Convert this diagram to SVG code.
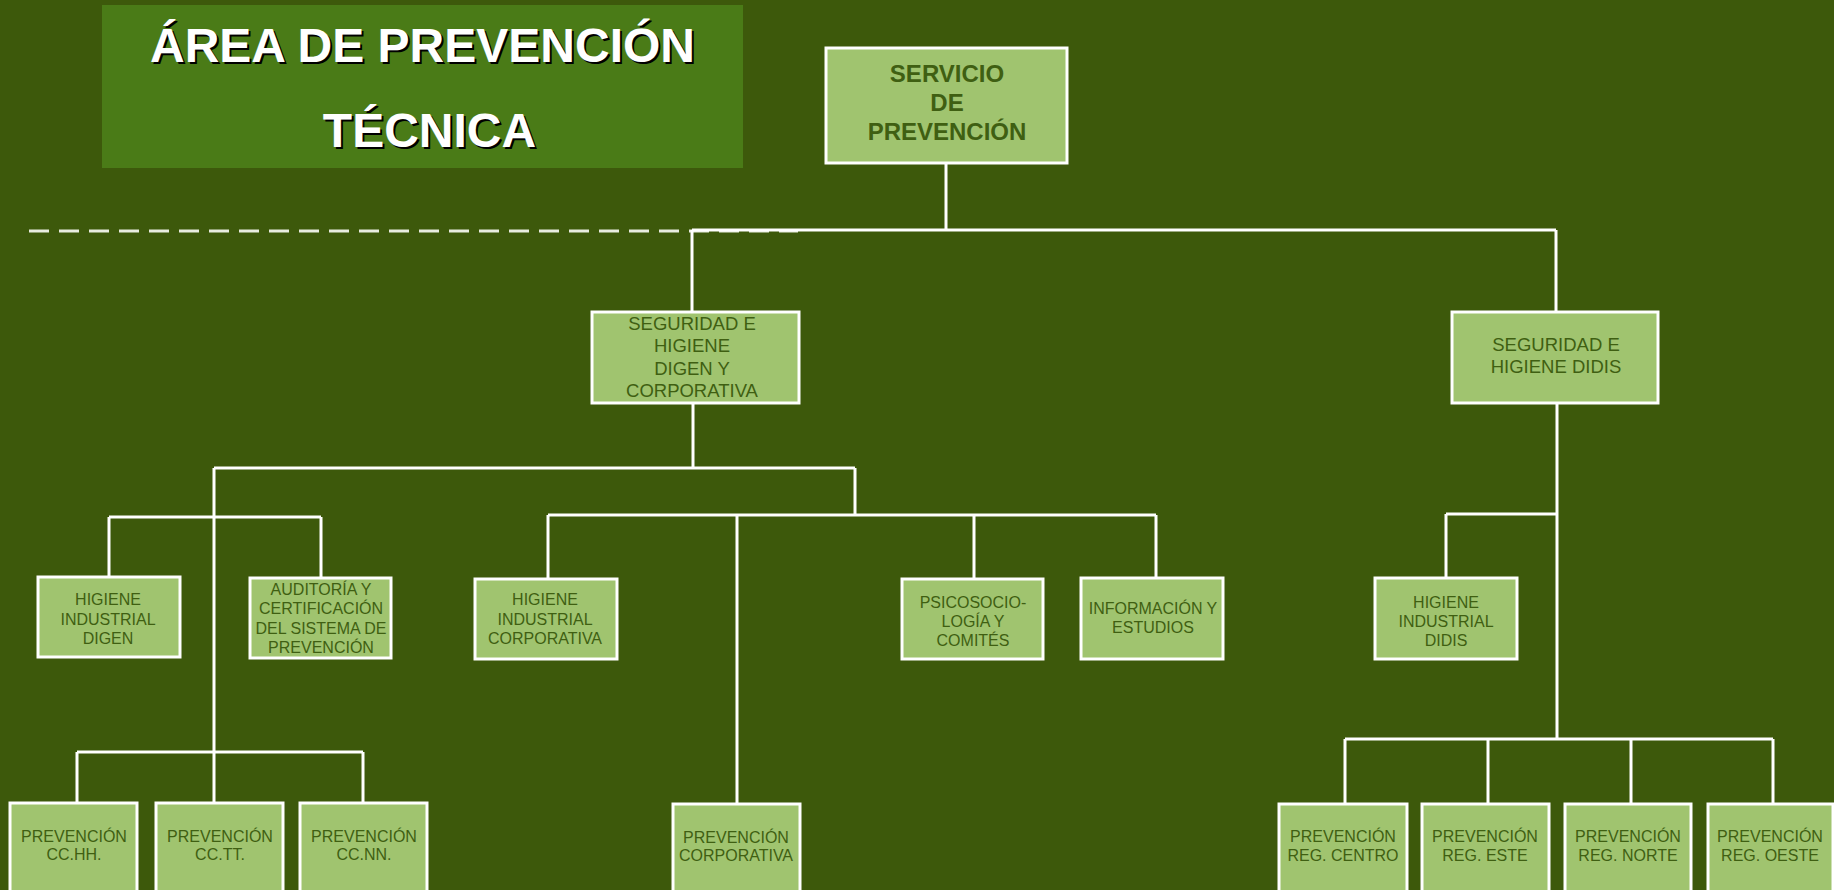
<svg xmlns="http://www.w3.org/2000/svg" width="1834" height="890" viewBox="0 0 1834 890">
<style>
.bg{fill:#3d590b}
.box{fill:#a0c46f;stroke:#ffffff;stroke-width:3}
.ln{stroke:#ffffff;stroke-width:3;fill:none}
.t{font-family:"Liberation Sans",Arial,sans-serif;font-size:16px;fill:#3f5f12;text-anchor:middle}
.tm{font-family:"Liberation Sans",Arial,sans-serif;font-size:18.5px;fill:#3f5f12;text-anchor:middle}
.tb{font-family:"Liberation Sans",Arial,sans-serif;font-size:24px;font-weight:bold;fill:#3f5f12;text-anchor:middle}
.title{font-family:"Liberation Sans",Arial,sans-serif;font-size:48px;font-weight:bold;text-anchor:middle}
</style>
<rect class="bg" x="0" y="0" width="1834" height="890"/>

<g id="title">
<rect x="102" y="5" width="641" height="163" fill="#4a7b17"/>
<text class="title" x="424.5" y="64" fill="#000000">ÁREA DE PREVENCIÓN</text>
<text class="title" x="422.5" y="62" fill="#ffffff">ÁREA DE PREVENCIÓN</text>
<text class="title" x="431.5" y="149" fill="#000000">TÉCNICA</text>
<text class="title" x="429.5" y="147" fill="#ffffff">TÉCNICA</text>
</g>

<g id="connectors">
<line x1="29" y1="231" x2="798" y2="231" stroke="#e8ece0" stroke-width="3" stroke-dasharray="20 10"/>
<path class="ln" d="M946 163 V230 M692 230 H1556 M692 230 V312 M1556 230 V312"/>
<path class="ln" d="M693 403 V468 M214 468 H855 M855 468 V515 M214 468 V752"/>
<path class="ln" d="M109 517 H321 M109 517 V577 M321 517 V578"/>
<path class="ln" d="M548 515 H1156 M548 515 V579 M737 515 V804 M974 515 V579 M1156 515 V578"/>
<path class="ln" d="M77 752 H363 M77 752 V803 M214 752 V803 M363 752 V803"/>
<path class="ln" d="M1557 403 V739 M1446 514 H1556 M1446 514 V578"/>
<path class="ln" d="M1345 739 H1773 M1345 739 V804 M1488 739 V804 M1631 739 V804 M1773 739 V804"/>
</g>

<g id="servicio">
<rect class="box" x="826" y="48" width="241" height="115"/>
<text class="tb" x="947" y="82">SERVICIO</text>
<text class="tb" x="947" y="111">DE</text>
<text class="tb" x="947" y="140">PREVENCIÓN</text>
</g>

<g id="seg-digen">
<rect class="box" x="592" y="312" width="207" height="91"/>
<text class="tm" x="692" y="330">SEGURIDAD E</text>
<text class="tm" x="692" y="352">HIGIENE</text>
<text class="tm" x="692" y="375">DIGEN Y</text>
<text class="tm" x="692" y="397">CORPORATIVA</text>
</g>

<g id="seg-didis">
<rect class="box" x="1452" y="312" width="206" height="91"/>
<text class="tm" x="1556" y="351">SEGURIDAD E</text>
<text class="tm" x="1556" y="373">HIGIENE DIDIS</text>
</g>

<g id="hig-digen">
<rect class="box" x="38" y="577" width="142" height="80"/>
<text class="t" x="108" y="605">HIGIENE</text>
<text class="t" x="108" y="625">INDUSTRIAL</text>
<text class="t" x="108" y="644">DIGEN</text>
</g>

<g id="auditoria">
<rect class="box" x="250" y="578" width="141" height="80"/>
<text class="t" x="321" y="595">AUDITORÍA Y</text>
<text class="t" x="321" y="614">CERTIFICACIÓN</text>
<text class="t" x="321" y="634" textLength="131" lengthAdjust="spacingAndGlyphs">DEL SISTEMA DE</text>
<text class="t" x="321" y="653">PREVENCIÓN</text>
</g>

<g id="hig-corp">
<rect class="box" x="475" y="579" width="142" height="80"/>
<text class="t" x="545" y="605">HIGIENE</text>
<text class="t" x="545" y="625">INDUSTRIAL</text>
<text class="t" x="545" y="644">CORPORATIVA</text>
</g>

<g id="psico">
<rect class="box" x="902" y="579" width="141" height="80"/>
<text class="t" x="973" y="608">PSICOSOCIO-</text>
<text class="t" x="973" y="627">LOGÍA Y</text>
<text class="t" x="973" y="646">COMITÉS</text>
</g>

<g id="informacion">
<rect class="box" x="1081" y="578" width="142" height="81"/>
<text class="t" x="1153" y="614">INFORMACIÓN Y</text>
<text class="t" x="1153" y="633">ESTUDIOS</text>
</g>

<g id="hig-didis">
<rect class="box" x="1375" y="578" width="142" height="81"/>
<text class="t" x="1446" y="608">HIGIENE</text>
<text class="t" x="1446" y="627">INDUSTRIAL</text>
<text class="t" x="1446" y="646">DIDIS</text>
</g>

<g id="prev-cchh">
<rect class="box" x="10" y="803" width="127" height="100"/>
<text class="t" x="74" y="842">PREVENCIÓN</text>
<text class="t" x="74" y="860">CC.HH.</text>
</g>

<g id="prev-cctt">
<rect class="box" x="156" y="803" width="127" height="100"/>
<text class="t" x="220" y="842">PREVENCIÓN</text>
<text class="t" x="220" y="860">CC.TT.</text>
</g>

<g id="prev-ccnn">
<rect class="box" x="300" y="803" width="127" height="100"/>
<text class="t" x="364" y="842">PREVENCIÓN</text>
<text class="t" x="364" y="860">CC.NN.</text>
</g>

<g id="prev-corp">
<rect class="box" x="673" y="804" width="127" height="100"/>
<text class="t" x="736" y="843">PREVENCIÓN</text>
<text class="t" x="736" y="861">CORPORATIVA</text>
</g>

<g id="prev-centro">
<rect class="box" x="1279" y="804" width="128" height="100"/>
<text class="t" x="1343" y="842">PREVENCIÓN</text>
<text class="t" x="1343" y="861">REG. CENTRO</text>
</g>

<g id="prev-este">
<rect class="box" x="1422" y="804" width="127" height="100"/>
<text class="t" x="1485" y="842">PREVENCIÓN</text>
<text class="t" x="1485" y="861">REG. ESTE</text>
</g>

<g id="prev-norte">
<rect class="box" x="1565" y="804" width="126" height="100"/>
<text class="t" x="1628" y="842">PREVENCIÓN</text>
<text class="t" x="1628" y="861">REG. NORTE</text>
</g>

<g id="prev-oeste">
<rect class="box" x="1708" y="804" width="125" height="100"/>
<text class="t" x="1770" y="842">PREVENCIÓN</text>
<text class="t" x="1770" y="861">REG. OESTE</text>
</g>
</svg>
